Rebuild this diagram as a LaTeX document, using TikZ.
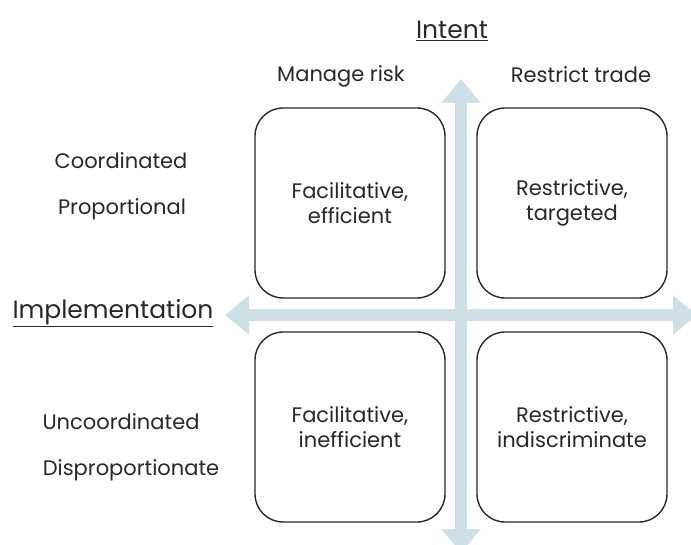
\documentclass[tikz,border=0pt]{standalone}
\usepackage{fontspec}
\setmainfont{Poppins}
\usetikzlibrary{arrows.meta}
\definecolor{axisblue}{RGB}{207,223,230}
\definecolor{inkgray}{RGB}{40,40,40}
\tikzset{
  cell/.style={shape=rectangle,draw=inkgray,line width=1.4pt,rounded corners=28pt,
    fill=white,minimum width=190pt,minimum height=190pt,align=center,text=inkgray,
    font=\fontsize{21}{25}\selectfont},
  lbl/.style={text=inkgray,font=\fontsize{21}{25}\selectfont},
  head/.style={text=inkgray,font=\fontsize{25}{29}\selectfont},
  axis/.style={draw=axisblue,fill=axisblue,line width=12pt,
    {Triangle[width=38pt,length=24pt]}-{Triangle[width=38pt,length=24pt]}}
}
\begin{document}
\begin{tikzpicture}[x=1pt,y=-1pt]
\useasboundingbox (0,0) rectangle (691,545);
\clip (0,0) rectangle (691,545);
\coordinate(top) at (461,79);
\coordinate(bottom) at (461,553);
\coordinate(left) at (225,315);
\coordinate(right) at (697,315);

\draw [axis] (bottom) -- (top);
\draw [axis] (left) -- (right);

\node(tl) at (350,203)[cell]        {Facilitative,\\efficient};
\node(tr) at (572,203)[cell]        {Restrictive,\\targeted};
\node(bl) at (350,427)[cell]        {Facilitative,\\inefficient};
\node(br) at (572,427)[cell]        {Restrictive,\\indiscriminate};

\node(intent) at (452,31)[head]     {\underline{Intent}};
\node(impl) at (113,313)[head]      {\underline{Implementation}};
\node(risk) at (341,76)[lbl]        {Manage risk};
\node(trade) at (581,75)[lbl]       {Restrict trade};
\node(coord) at (121,161)[lbl]      {Coordinated};
\node(prop) at (122,209)[lbl]       {Proportional};
\node(uncoord) at (121,422)[lbl]    {Uncoordinated};
\node(disprop) at (131,470)[lbl]    {Disproportionate};

\end{tikzpicture}
\end{document}
